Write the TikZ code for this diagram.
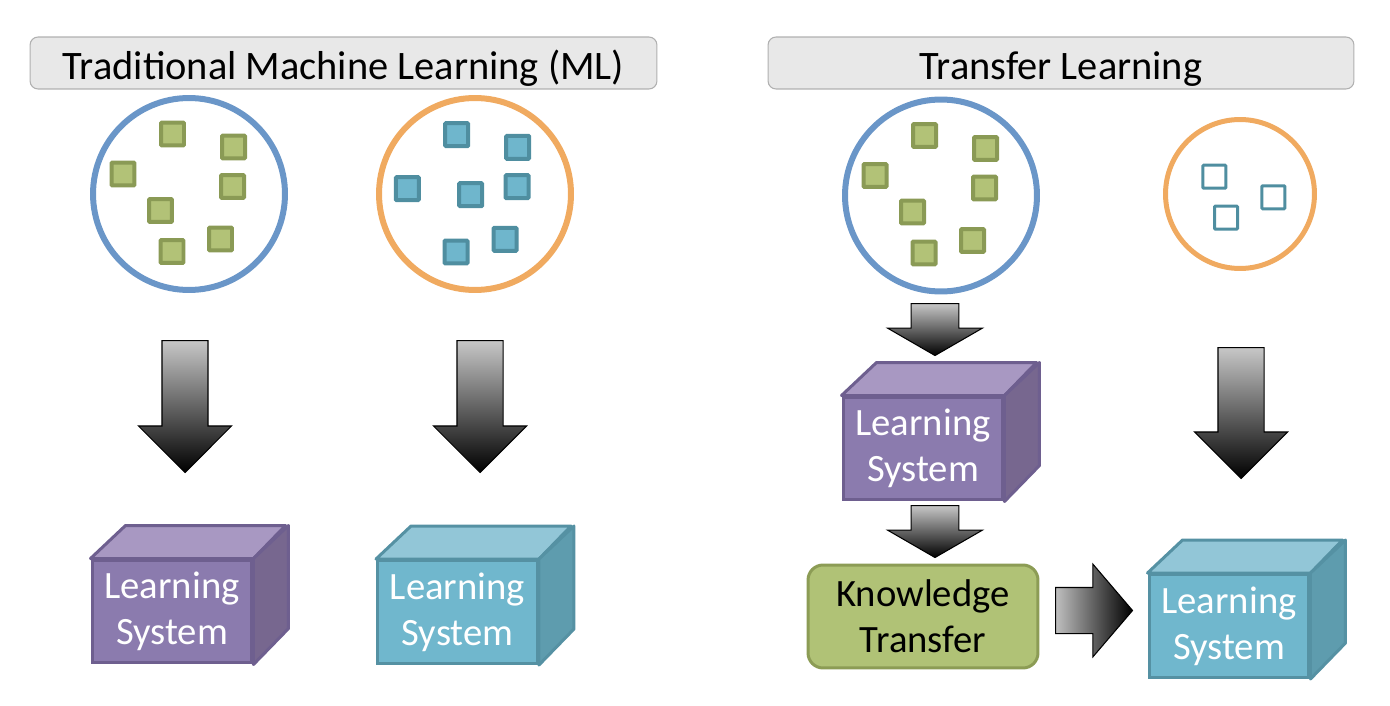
\documentclass[tikz,border=0pt]{standalone}
\usepackage{fontspec}
\setmainfont{Carlito}
\usetikzlibrary{shapes.arrows}

\definecolor{titlefill}{HTML}{E8E8E8}
\definecolor{titleedge}{HTML}{B0B0B0}
\definecolor{poolblue}{HTML}{6A96C8}
\definecolor{poolorange}{HTML}{F0AA60}
\definecolor{greenfill}{HTML}{B2C277}
\definecolor{greenedge}{HTML}{8A9A55}
\definecolor{tealfill}{HTML}{6FB6CC}
\definecolor{tealedge}{HTML}{4F8EA0}
\definecolor{purpfront}{HTML}{8B7BAE}
\definecolor{purptop}{HTML}{A898C2}
\definecolor{purpside}{HTML}{77678F}
\definecolor{purpedge}{HTML}{6E5F8F}
\definecolor{cubefront}{HTML}{70B7CD}
\definecolor{cubetop}{HTML}{92C6D7}
\definecolor{cubeside}{HTML}{5E9CAE}
\definecolor{cubeedge}{HTML}{5591A3}
\definecolor{knowfill}{HTML}{B0C276}
\definecolor{knowedge}{HTML}{8C9C55}

\begin{document}
\begin{tikzpicture}[x=0.02cm, y=-0.02cm,
    titlebox/.style={draw=titleedge, fill=titlefill, rounded corners=0.16cm, line width=0.6pt,
        minimum height=1.04cm, inner sep=0pt, font=\fontsize{23}{27}\selectfont},
    pool/.style={circle, line width=0.12cm, minimum size=3.84cm, inner sep=0pt},
    sample/.style={rectangle, rounded corners=0.5pt, line width=0.08cm, minimum size=0.46cm, inner sep=0pt},
    front/.style={rectangle, minimum width=3.2cm, minimum height=2.06cm, line width=0.06cm,
        text=white, align=center, inner sep=0pt, font=\fontsize{22}{26}\selectfont},
    fatarrow/.style={single arrow, draw=black, line width=0.6pt, inner xsep=0pt, inner ysep=0.45cm,
        anchor=tail, minimum width=1.84cm, single arrow head extend=0.47cm},
    down/.style={shape border rotate=270, inner xsep=0.45cm, inner ysep=0pt,
        top color=black!22, bottom color=black},
    right/.style={left color=black!25, right color=black}
]
\useasboundingbox (0,0) rectangle (1390,706);

% Titles
\node[titlebox, minimum width=12.54cm] (titleML) at (343.5,63)
    {\raisebox{-0.34cm}[0pt][0pt]{Traditional Machine Learning (ML)}};
\node[titlebox, minimum width=11.72cm] (titleTL) at (1061,63)
    {\raisebox{-0.34cm}[0pt][0pt]{Transfer Learning}};

% Data pools
\node[pool, draw=poolblue] (poolA) at (189,194) {};
\node[pool, draw=poolorange] (poolB) at (475,194) {};
\node[pool, draw=poolblue] (poolC) at (941,195.5) {};
\node[pool, draw=poolorange, line width=0.1cm, minimum size=2.98cm] (poolD) at (1240,194) {};

% Samples
\foreach \p in {poolA, poolC}
    \foreach \dx/\dy [count=\i] in {-16.5/-60, 44.5/-47, -66/-20, 43.5/-7.5, -28.5/16.5, 31.5/45, -17/57.5}
        \node[sample, draw=greenedge, fill=greenfill] (\p-s\i) at ([shift={(\dx,\dy)}]\p) {};
\foreach \dx/\dy [count=\i] in {-18.3/-59.3, 42.7/-46.7, -67.7/-5.3, -4.3/0.7, 42/-7.3, 30/45.3, -19/58}
    \node[sample, draw=tealedge, fill=tealfill] (poolB-s\i) at ([shift={(\dx,\dy)}]poolB) {};
\foreach \dx/\dy [count=\i] in {-25.7/-17.3, 33.3/3.3, -14/23.7}
    \node[sample, draw=tealedge, line width=0.06cm] (poolD-s\i) at ([shift={(\dx,\dy)}]poolD) {};

% Big arrows
\node[fatarrow, down, minimum height=2.64cm] (arrA) at (185,340) {};
\node[fatarrow, down, minimum height=2.64cm] (arrB) at (480,340) {};
\node[fatarrow, down, minimum height=1.04cm, minimum width=1.88cm, single arrow head extend=0.474cm,
    single arrow tip angle=120, inner xsep=0.466cm] (arrC) at (935,303) {};
\node[fatarrow, down, minimum height=1.04cm, minimum width=1.88cm, single arrow head extend=0.474cm,
    single arrow tip angle=120, inner xsep=0.466cm] (arrE) at (935,505) {};
\node[fatarrow, down, minimum height=2.62cm] (arrD) at (1241,347) {};
\node[fatarrow, right, minimum height=1.54cm, single arrow tip angle=99] (arrK) at (1055,610.5) {};

% Learning systems
\node[front, draw=purpedge, fill=purpfront] (lsA) at (172,611.5) {Learning\\System};
\node[front, draw=cubeedge, fill=cubefront] (lsB) at (457.5,612) {Learning\\System};
\node[front, draw=purpedge, fill=purpfront] (lsC) at (923,448.5) {Learning\\System};
\node[front, draw=cubeedge, fill=cubefront] (lsD) at (1229,626) {Learning\\System};
\foreach \c/\t/\s/\e in {lsA/purptop/purpside/purpedge, lsB/cubetop/cubeside/cubeedge,
                         lsC/purptop/purpside/purpedge, lsD/cubetop/cubeside/cubeedge} {
    \draw[\e, fill=\t, line width=0.06cm, line join=round]
        (\c.north west) -- ++(35,-33) -- ++(160,0) -- (\c.north east) -- cycle;
    \draw[\e, fill=\s, line width=0.06cm, line join=round]
        (\c.north east) -- ++(35,-33) -- ++(0,103) -- (\c.south east) -- cycle;
}

% Knowledge transfer
\node[draw=knowedge, fill=knowfill, rounded corners=0.3cm, line width=0.06cm,
    minimum width=4.6cm, minimum height=2.06cm, align=center, inner sep=0pt,
    font=\fontsize{22}{26}\selectfont] (know) at (923,616.5) {Knowledge\\Transfer};
\end{tikzpicture}
\end{document}
